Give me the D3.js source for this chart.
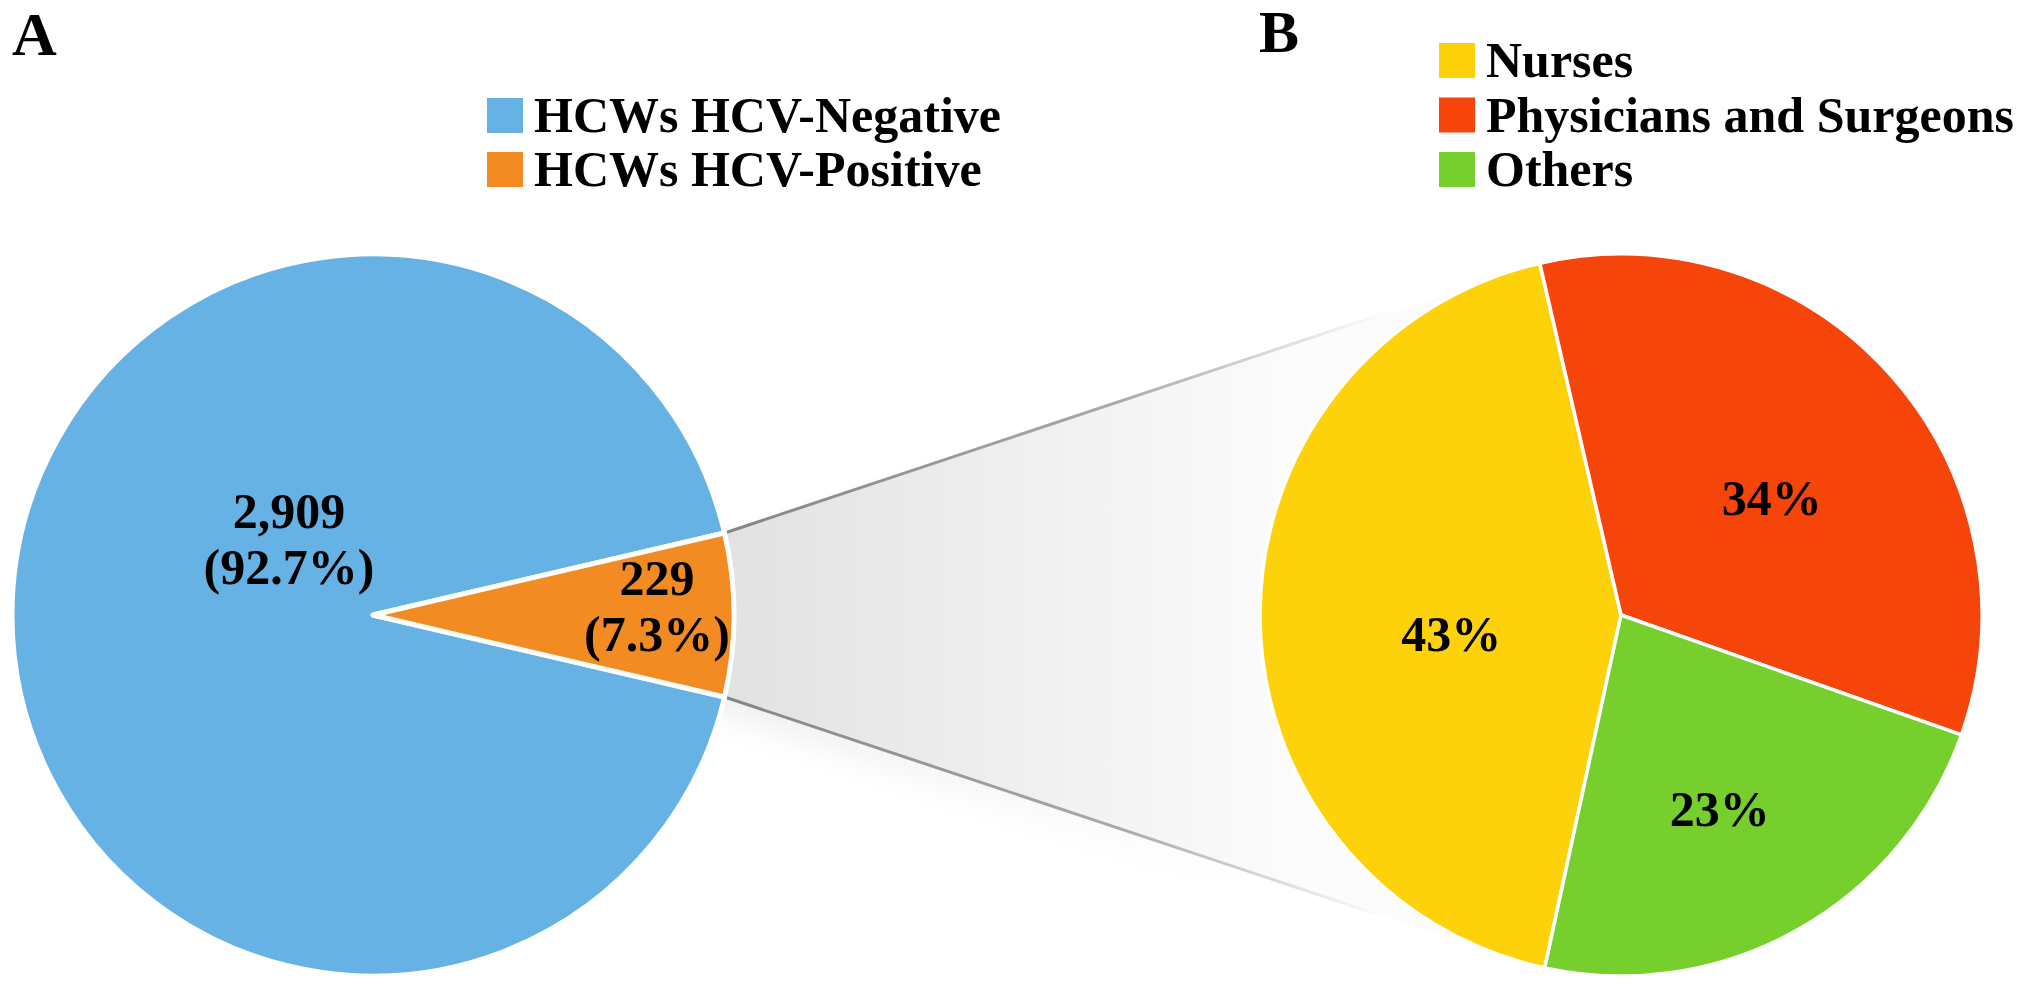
<!DOCTYPE html>
<html>
<head>
<meta charset="utf-8">
<script src="https://cdn.jsdelivr.net/npm/d3@7"></script>
<style>
  body { margin: 0; background: #fff; }
  svg text { font-family: "Liberation Serif", "Times New Roman", serif; font-weight: bold; fill: #000; }
</style>
</head>
<body>
<svg id="chart" width="2031" height="992"></svg>
<script>
// panel A: all HCWs tested
const statusLabels = ["HCWs HCV-Negative", "HCWs HCV-Positive"];
const statusCounts = [2909, 229];
const statusShares = [92.7, 7.3];
const statusColors = ["#67b2e5", "#f38b23"];

// panel B: HCV-positive HCWs by job
const jobLabels = ["Nurses", "Physicians and Surgeons", "Others"];
const jobShares = [43, 34, 23];
const jobColors = ["#fed20b", "#f5450b", "#77cf2d"];

const R = 361;
const centerA = { x: 373, y: 615 };
const centerB = { x: 1621, y: 615 };

const svg = d3.select("#chart");
const defs = svg.append("defs");

const statusData = statusLabels.map((name, i) => ({
  name: name,
  count: statusCounts[i],
  share: statusShares[i],
  color: statusColors[i],
}));
const jobData = jobLabels.map((name, i) => ({
  name: name,
  share: jobShares[i],
  color: jobColors[i],
}));

// positive slice is centred on 3 o'clock
const total = d3.sum(statusCounts);
const posAngle = (2 * Math.PI * statusCounts[1]) / total;
const startA = Math.PI / 2 + posAngle / 2;

const pieA = d3
  .pie()
  .sort(null)
  .value((d) => d.count)
  .startAngle(startA)
  .endAngle(startA + 2 * Math.PI);
const arcsA = pieA(statusData);

const startB = (-(13 + 0.43 * 360) * Math.PI) / 180;
const pieB = d3
  .pie()
  .sort(null)
  .value((d) => d.share)
  .startAngle(startB)
  .endAngle(startB + 2 * Math.PI);
const arcsB = pieB(jobData);

const arc = d3.arc().innerRadius(0).outerRadius(R);

// ---- connector band from the positive slice to pie B ----
const pos = arcsA[1];
const onA = (a) => ({
  x: centerA.x + R * Math.sin(a),
  y: centerA.y - R * Math.cos(a),
});
const p1 = onA(pos.startAngle);
const p2 = onA(pos.endAngle);

const tangent = (p, c, r, sign) => {
  const dx = c.x - p.x,
    dy = c.y - p.y;
  const d = Math.hypot(dx, dy);
  const a = Math.atan2(dy, dx) + sign * Math.asin(r / d);
  const L = Math.sqrt(d * d - r * r);
  return { x: p.x + L * Math.cos(a), y: p.y + L * Math.sin(a) };
};
const t1 = tangent(p1, centerB, R, -1);
const t2 = tangent(p2, centerB, R, 1);

const band = [p1, t1, centerB, t2, p2, centerA];

const fillGrad = defs
  .append("linearGradient")
  .attr("id", "bandFill")
  .attr("gradientUnits", "userSpaceOnUse")
  .attr("x1", p1.x)
  .attr("x2", centerB.x - R + 40)
  .attr("y1", 0)
  .attr("y2", 0);
fillGrad.append("stop").attr("offset", 0).attr("stop-color", "#e2e2e2");
fillGrad.append("stop").attr("offset", 0.5).attr("stop-color", "#efefef");
fillGrad.append("stop").attr("offset", 1).attr("stop-color", "#fcfcfc");

const lineGrad = defs
  .append("linearGradient")
  .attr("id", "bandLine")
  .attr("gradientUnits", "userSpaceOnUse")
  .attr("x1", p1.x)
  .attr("x2", centerB.x - R + 130)
  .attr("y1", 0)
  .attr("y2", 0);
lineGrad.append("stop").attr("offset", 0).attr("stop-color", "#858585");
lineGrad.append("stop").attr("offset", 0.6).attr("stop-color", "#aaaaaa");
lineGrad.append("stop").attr("offset", 1).attr("stop-color", "#ffffff");

const shadowGrad = defs
  .append("linearGradient")
  .attr("id", "shadowFade")
  .attr("gradientUnits", "userSpaceOnUse")
  .attr("x1", p1.x)
  .attr("x2", centerB.x - R)
  .attr("y1", 0)
  .attr("y2", 0);
shadowGrad.append("stop").attr("offset", 0).attr("stop-color", "#000").attr("stop-opacity", 0.06);
shadowGrad.append("stop").attr("offset", 1).attr("stop-color", "#000").attr("stop-opacity", 0);

defs
  .append("filter")
  .attr("id", "soft")
  .attr("x", "-20%")
  .attr("y", "-20%")
  .attr("width", "140%")
  .attr("height", "140%")
  .append("feGaussianBlur")
  .attr("stdDeviation", 14);

const polyLine = d3
  .line()
  .x((d) => d.x)
  .y((d) => d.y);

svg
  .append("path")
  .attr("d", polyLine(band) + "Z")
  .attr("transform", "translate(0,18)")
  .attr("fill", "url(#shadowFade)")
  .attr("filter", "url(#soft)");

svg
  .append("path")
  .attr("d", polyLine(band) + "Z")
  .attr("fill", "url(#bandFill)");

svg
  .selectAll(".band-edge")
  .data([
    [p1, t1],
    [p2, t2],
  ])
  .enter()
  .append("path")
  .attr("class", "band-edge")
  .attr("d", (d) => polyLine(d))
  .attr("stroke", "url(#bandLine)")
  .attr("stroke-width", 3)
  .attr("fill", "none");

// ---- pie A ----
const gA = svg
  .append("g")
  .attr("transform", "translate(" + centerA.x + "," + centerA.y + ")");

gA.append("circle")
  .attr("r", R + 0.5)
  .attr("fill", "none")
  .attr("stroke", "#4f97d6")
  .attr("stroke-width", 1.5);

gA.selectAll("path")
  .data(arcsA)
  .enter()
  .append("path")
  .attr("d", arc)
  .attr("fill", (d) => d.data.color)
  .attr("stroke", "#fff")
  .attr("stroke-width", 5)
  .attr("stroke-linejoin", "round");

const fmt = d3.format(",");
const labelA = [
  { dx: -84, dy: -87 },
  { dx: 284, dy: -20 },
];

const textA = gA
  .selectAll("text")
  .data(arcsA)
  .enter()
  .append("text")
  .attr("text-anchor", "middle")
  .attr("font-size", 50)
  .attr("transform", (d, i) => "translate(" + labelA[i].dx + "," + labelA[i].dy + ")");
textA
  .append("tspan")
  .attr("x", 0)
  .attr("y", 0)
  .text((d) => fmt(d.data.count));
textA
  .append("tspan")
  .attr("x", 0)
  .attr("y", 56)
  .text((d) => "(" + d.data.share + "%)");

// ---- pie B ----
const gB = svg
  .append("g")
  .attr("transform", "translate(" + centerB.x + "," + centerB.y + ")");

gB.selectAll("path")
  .data(arcsB)
  .enter()
  .append("path")
  .attr("d", arc)
  .attr("fill", (d) => d.data.color)
  .attr("stroke", "#fff")
  .attr("stroke-width", 3.5)
  .attr("stroke-linejoin", "round");

// label distance from the centre, as a share of the radius
const labelRadiusB = [0.47, 0.56, 0.56];
const labelPos = (d, i) => {
  const a = (d.startAngle + d.endAngle) / 2;
  const r = R * labelRadiusB[i];
  return [r * Math.sin(a), -r * Math.cos(a) + 18];
};

gB.selectAll("text")
  .data(arcsB)
  .enter()
  .append("text")
  .attr("transform", (d, i) => "translate(" + labelPos(d, i) + ")")
  .attr("text-anchor", "middle")
  .attr("dy", "0.34em")
  .attr("font-size", 50)
  .text((d) => d.data.share + "%");

// ---- panel letters ----
svg.append("text").attr("x", 12).attr("y", 55).attr("font-size", 62).text("A");
svg.append("text").attr("x", 1259).attr("y", 52).attr("font-size", 60).text("B");

// ---- legends ----
const legend = (items, x, y, step) => {
  const g = svg
    .append("g")
    .attr("transform", "translate(" + x + "," + y + ")");
  const row = g
    .selectAll("g")
    .data(items)
    .enter()
    .append("g")
    .attr("transform", (d, i) => "translate(0," + i * step + ")");
  row
    .append("rect")
    .attr("width", 36)
    .attr("height", 35)
    .attr("fill", (d) => d.color);
  row
    .append("text")
    .attr("x", 47)
    .attr("y", 34)
    .attr("font-size", 50)
    .text((d) => d.name);
};

legend(statusData, 487, 98, 54);
legend(jobData, 1439, 43, 54.5);
</script>
</body>
</html>
